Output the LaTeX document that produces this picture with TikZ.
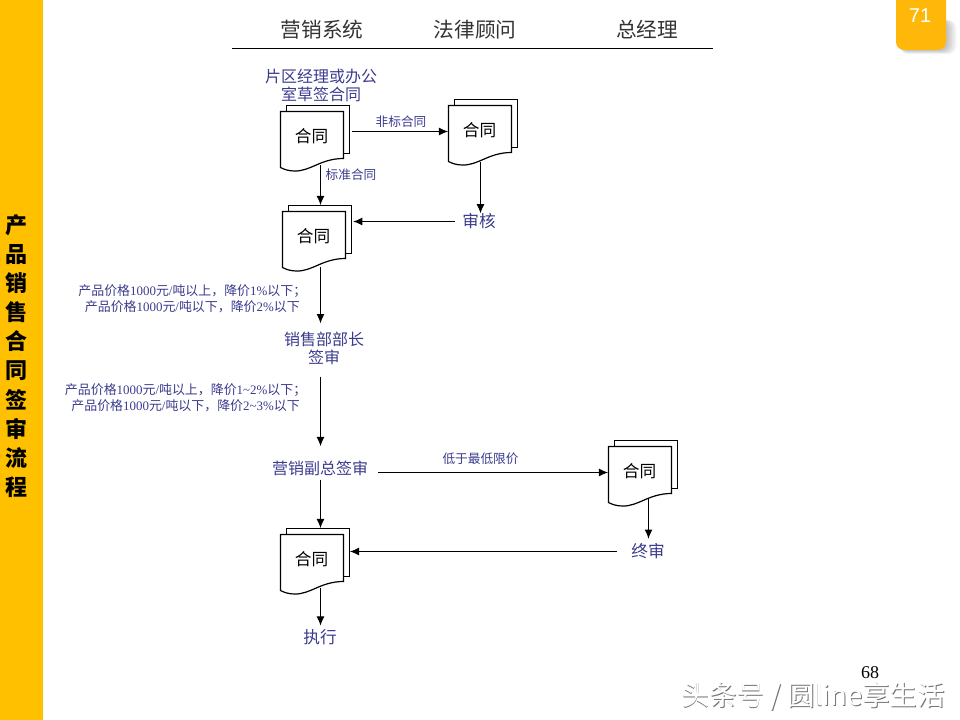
\documentclass[tikz,border=0pt]{standalone}
\usepackage{fontspec}
\setmainfont{Liberation Serif}
\newfontfamily\cjk{Noto Sans CJK SC}
\newfontfamily\lat{Liberation Serif}
\newfontfamily\arialfont{Liberation Sans}
\usetikzlibrary{arrows.meta}
\definecolor{barcol}{HTML}{FFC000}
\definecolor{tabcol}{HTML}{FFB80A}
\definecolor{inkcol}{HTML}{3B3B8E}
\definecolor{headcol}{HTML}{333333}

% x, y of the front sheet, then x and y of the stem that leaves its wave
\newcommand{\contractdoc}[5]{
	\begin{scope}[shift={(#2,#3)}]
		\draw[doc_line] (6,42) -- (6,-6) -- (69,-6) -- (69,42) -- cycle;
		\draw[doc_line] (0,0) -- (63,0) -- (63,47) .. controls (40,47) and (30,60) .. (14,59.5) .. controls (8,59.5) and (4,58) .. (0,56) -- cycle;
		\node[stack_node] (#1) at (34.5,26){};
		\node[doc_text] (#1_txt) at (31,25){合同};
		\coordinate (#1_s) at (#4,#5);
	\end{scope}
}

\begin{document}
\begin{tikzpicture}[x=0.75pt,y=-0.75pt,
	doc_line/.style={draw=black,fill=white,line width=.9pt},
	stack_node/.style={rectangle,minimum width=51.75pt,minimum height=48pt,inner sep=0pt},
	doc_text/.style={font=\cjk\fontsize{12.5}{14}\selectfont,inner sep=0pt},
	head_text/.style={font=\cjk\fontsize{15.5}{17}\selectfont,text=headcol,inner sep=0pt},
	step_text/.style={font=\cjk\fontsize{12.5}{13.5}\selectfont,text=inkcol,inner sep=0pt,align=center},
	long_text/.style={step_text,font=\cjk\fontsize{12}{13.5}\selectfont},
	small_text/.style={font=\cjk\fontsize{9.5}{10}\selectfont,text=inkcol,inner sep=0pt},
	rule_text/.style={font=\cjk\fontsize{9.7}{12}\selectfont,text=inkcol,inner sep=0pt,align=right,anchor=east},
	flow/.style={draw,line width=.9pt,-{Latex[length=7pt,width=6pt]}}]
	\useasboundingbox (0,0) rectangle (960,720);

	% side bar
	\fill[barcol] (0,0) rectangle (43,720);
	\node[font=\cjk\bfseries\fontsize{16.5}{21.8}\selectfont,align=center,inner sep=0pt] (title) at (17,356){产\\品\\销\\售\\合\\同\\签\\审\\流\\程};

	% page tab
	\foreach \d in {2,4,...,10}
		\fill[black,opacity=.05,rounded corners=6pt] (900,20) rectangle (946+\d,50+\d*.4);
	\fill[tabcol,rounded corners=6pt] (896,-10) rectangle (946,50);
	\node[font=\arialfont\fontsize{15}{17}\selectfont,text=white,inner sep=0pt] (tab) at (920,16){71};

	% header
	\node[head_text] (sales) at (322,30){营销系统};
	\node[head_text] (legal) at (475,30){法律顾问};
	\node[head_text] (boss) at (647,30){总经理};
	\coordinate (rule_l) at (232,48.4);
	\coordinate (rule_r) at (713,48.4);
	\draw[line width=.8pt] (rule_l) -- (rule_r);

	% steps
	\node[long_text] (draft) at (321,85){片区经理或办公\\室草签合同};
	\contractdoc{doc1}{280.5}{111.5}{40}{53.5}
	\contractdoc{doc2}{448.5}{105.5}{32}{57}
	\contractdoc{doc3}{282.5}{211.5}{38}{55.5}
	\contractdoc{doc4}{608.5}{446.5}{40}{52}
	\contractdoc{doc5}{280.5}{534.5}{40}{53}
	\node[step_text] (audit) at (479,221.5){审核};
	\node[long_text] (head) at (324,348){销售部部长\\签审};
	\node[long_text] (vice) at (320,468){营销副总签审};
	\node[step_text] (final) at (648,551.5){终审};
	\node[step_text] (run) at (320,637){执行};

	% texts along the arrows
	\node[small_text] (nonstd) at (401,122){非标合同};
	\node[small_text] (std) at (351,175){标准合同};
	\node[small_text] (low) at (480.5,459){低于最低限价};
	\node[rule_text] (rule1) at (300,299){产品价格{\lat 1000}元{\lat /}吨以上，降价{\lat 1\%}以下；\kern-.5em\\产品价格{\lat 1000}元{\lat /}吨以下，降价{\lat 2\%}以下};
	\node[rule_text] (rule2) at (300,398){产品价格{\lat 1000}元{\lat /}吨以上，降价{\lat 1\textasciitilde2\%}以下；\kern-.5em\\产品价格{\lat 1000}元{\lat /}吨以下，降价{\lat 2\textasciitilde3\%}以下};

	\path[every edge/.style={flow}]
	(doc1.east |- doc2.west) edge[shorten <=1.5pt] (doc2.west)
	(doc1_s) edge (doc1_s |- doc3.north)
	(doc2_s) edge (doc2_s |- audit.north)
	(audit.west) edge[shorten <=5.5pt,shorten >=1pt] (audit.west -| doc3.east)
	(doc3_s) edge[shorten >=6pt] (doc3_s |- head.north)
	(doc3_s |- head.south) edge[shorten <=9pt,shorten >=10.5pt] (doc3_s |- vice.north)
	(vice.east |- doc4.west) edge[shorten <=7.5pt] (doc4.west)
	(doc1_s |- vice.south) edge[shorten <=3pt] (doc1_s |- doc5.north)
	(doc4_s) edge[shorten >=3.5pt] (doc4_s |- final.north)
	(final.west) edge[shorten <=10.5pt] (final.west -| doc5.east)
	(doc5_s) edge[shorten >=2.5pt] (doc5_s |- run.north)
	;

	% page number and watermark
	\node[font=\fontsize{13.5}{15}\selectfont,inner sep=0pt] (page) at (870,673){68};
	\node[font=\cjk\fontsize{20.6}{22}\selectfont,text=black!55,inner sep=0pt] (mark_s) at (814.3,697.3){头条号 / 圆line享生活};
	\node[font=\cjk\fontsize{20.6}{22}\selectfont,text=white,inner sep=0pt] (mark) at (813.5,696.6){头条号 / 圆line享生活};
\end{tikzpicture}
\end{document}
